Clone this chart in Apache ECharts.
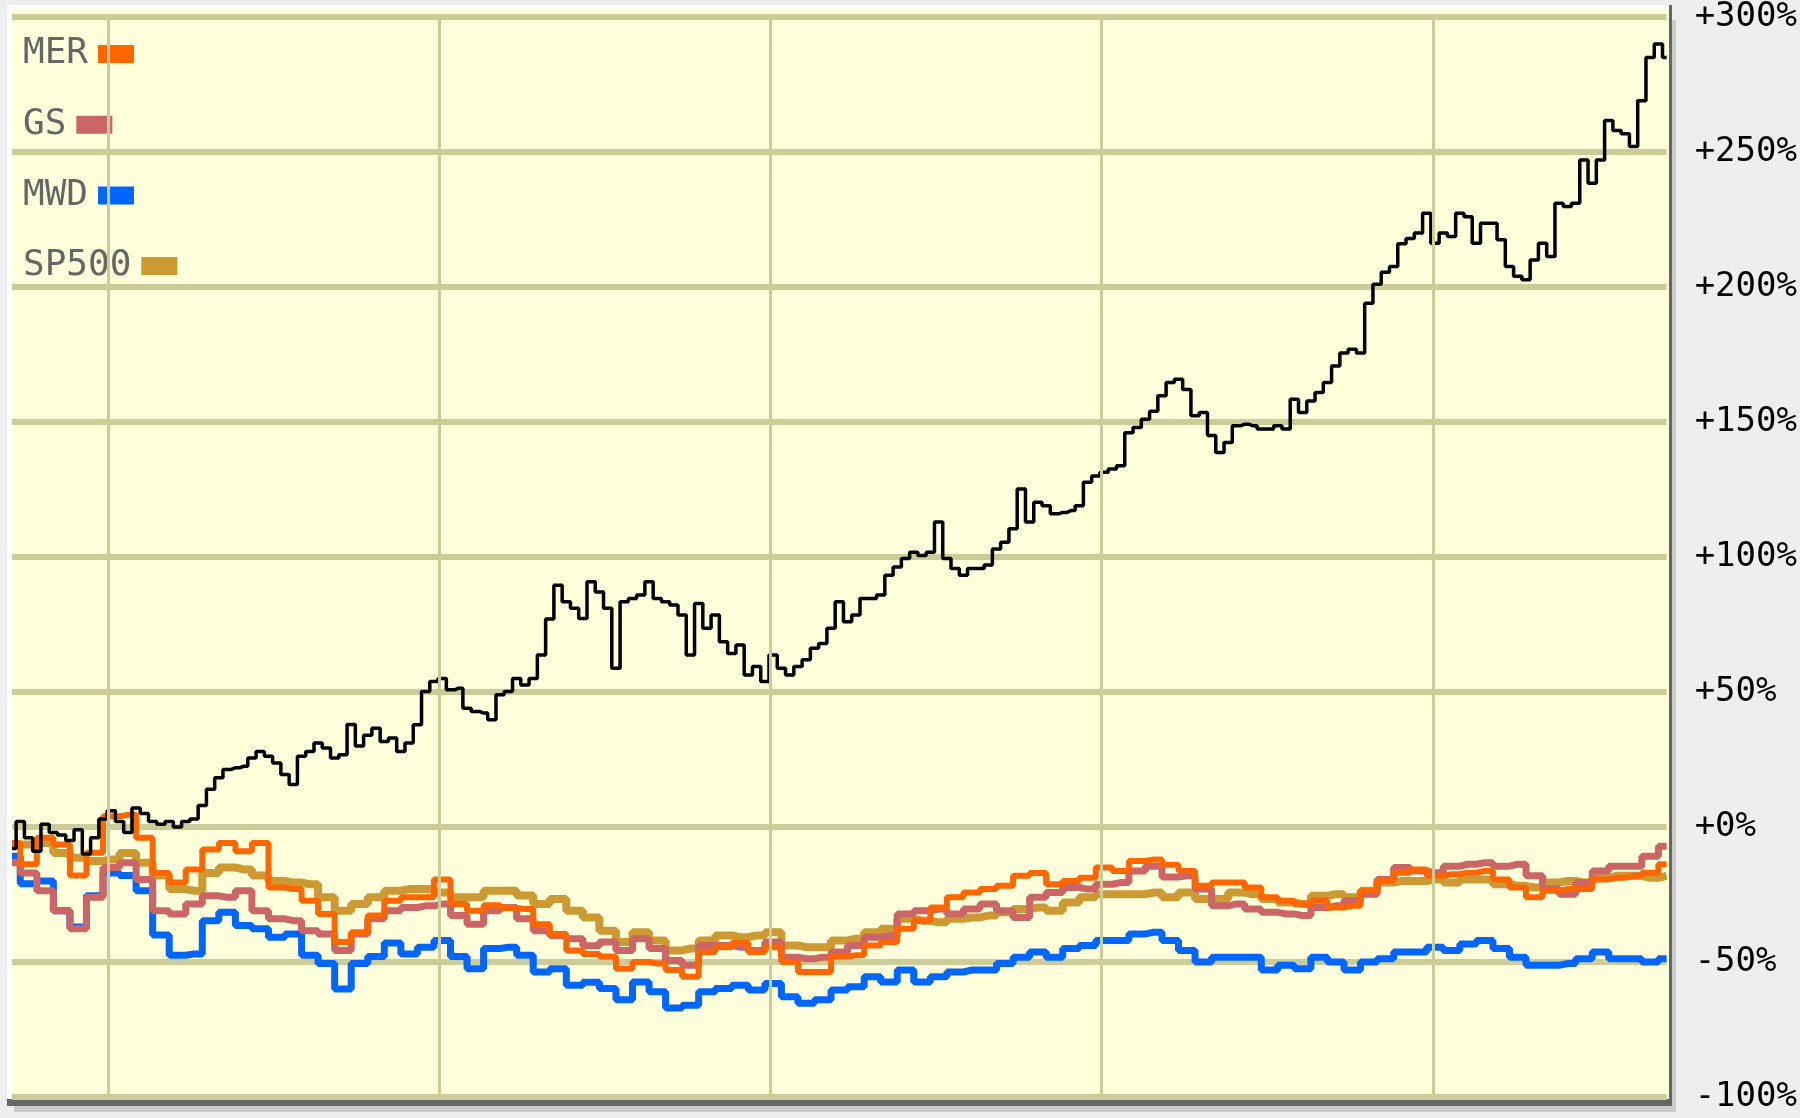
<!DOCTYPE html>
<html>
<head>
<meta charset="utf-8">
<title>MER GS MWD SP500</title>
<script src="https://cdn.jsdelivr.net/npm/echarts@6/dist/echarts.min.js"></script>
<style>
  html, body { margin: 0; padding: 0; background: #eeeeee; }
  #chart { width: 1800px; height: 1118px; }
</style>
</head>
<body>
<div id="chart"></div>
<script>
// x runs 0..100 across the plot; the colored series are sampled every 1, the main stock every 0.5
const colorStep = 1;
const mainStep = 0.5;

// positions of the vertical (period) lines on the x scale
const periodLines = [5.8, 25.8, 45.8, 65.8, 85.9];

// y axis ticks (percent change)
const yTicks = [-100, -50, 0, 50, 100, 150, 200, 250, 300];

// legend entries
const legendNames = ["MER", "GS", "MWD", "SP500"];

const seriesMER = [
  -5.9, -13.8, -4, -6.5, -18, -9.5, 4, 4.5, -4, -17,
  -20.6, -15.7, -8.3, -5.9, -9, -5.9, -22.4, -23, -27.3, -32.2,
  -42.6, -39, -32.8, -27.3, -26, -26, -19.4, -28.5, -31, -29,
  -30, -30.4, -36, -39.6, -45.7, -47, -48, -52.5, -50, -50.6,
  -53, -55.5, -46.3, -44.5, -43, -46.3, -44.5, -50, -53.7, -53.7,
  -48, -47.5, -43.9, -42.6, -37.7, -34.7, -29.8, -26, -24.3, -23,
  -21.8, -18.1, -17, -21.2, -20, -18.8, -15, -16.3, -12.6, -12,
  -14, -16.3, -21.8, -20.6, -20.6, -22.4, -26, -27.3, -28.5, -27.3,
  -29.8, -29.2, -23.6, -20, -16.9, -15.7, -18.1, -17.5, -16.9, -16.3,
  -19.4, -22.4, -26, -23.6, -23, -23, -19.4, -18.8, -18.1, -16.9,
  -13.8
];

const seriesGS = [
  -13.2, -17, -23.6, -31, -37.7, -26, -15, -13.2, -19.4, -31,
  -32.2, -28.5, -25.5, -26, -23.6, -31, -34, -34.7, -38.4, -39.6,
  -45.7, -39.6, -34, -31, -29.8, -29.2, -28.5, -32.8, -36, -31,
  -29.8, -34, -38.4, -40.2, -41.4, -44, -42.6, -45.7, -41.4, -45,
  -49.4, -51.2, -43.9, -43.9, -44.5, -45.7, -42.6, -48.2, -48.8, -48.2,
  -46.3, -43.9, -40.8, -40.2, -32.2, -31, -30.4, -32.2, -30.4, -28.5,
  -31, -33.5, -26, -24.3, -22.4, -23, -21.2, -20.6, -16.3, -14.5,
  -18.5, -18.1, -23, -29.2, -28.5, -30.4, -31.6, -32.2, -32.8, -29.8,
  -29.2, -27.3, -24.9, -19.4, -15, -16.3, -16.9, -14.5, -13.8, -13.2,
  -14.5, -13.8, -18.1, -23, -24.9, -20.6, -16.3, -14.5, -14.5, -10.8,
  -7.1
];

const seriesMWD = [
  -10.8, -21, -20, -31, -37, -25.5, -17, -18, -23.6, -40,
  -47.5, -47, -34.7, -31.6, -36.5, -37.7, -40.8, -39.6, -47.5, -50.6,
  -60, -50.6, -48, -43, -47, -44.5, -42, -48, -52.5, -45,
  -44.5, -47.5, -53.7, -52.5, -58.6, -57.5, -59.8, -64, -57.4, -61,
  -67, -66, -61, -59.8, -58.6, -60.4, -58, -62.9, -65.3, -64,
  -60.4, -59.2, -55.5, -57.4, -53, -57.4, -55.5, -53.7, -53, -53,
  -50.6, -48.2, -46.3, -48.2, -45, -43.9, -42, -42, -39.6, -39,
  -42, -45.7, -50, -48.2, -48.2, -48.2, -53, -51.2, -52.5, -48.2,
  -50, -53, -50, -48.8, -46.3, -46.3, -44.5, -45.7, -43.3, -42,
  -45, -48.2, -51.2, -51.2, -50.6, -48.8, -46.3, -48.8, -48.8, -50,
  -48.8
];

const seriesSP500 = [
  -6.5, -6.5, -5.9, -9.6, -11.4, -12.6, -12, -9.6, -13.2, -18,
  -23, -23.6, -17, -15, -15.7, -18, -20, -20.6, -21.2, -26,
  -31, -28.5, -26, -23.6, -23, -23, -24.3, -26, -26, -23.6,
  -23.6, -25.4, -28.5, -26.7, -31, -33.5, -38.4, -42.6, -39, -42,
  -45.7, -45, -42, -40.2, -40.8, -40.2, -39, -43.9, -44.5, -44.5,
  -42, -41.4, -39, -37.7, -34, -34.7, -35.3, -34, -33.5, -32.8,
  -31.6, -30.4, -29.8, -31, -28, -26, -24.9, -24.9, -24.9, -24.3,
  -26, -24.3, -26.7, -26.7, -24.3, -24.9, -26.7, -28, -28.5, -25.5,
  -24.9, -26, -23.6, -20.6, -20, -20, -19.4, -20.6, -19.4, -19.4,
  -21.2, -21.8, -22.4, -20.6, -20, -20.6, -18.8, -18.1, -18.1, -18.8,
  -18.1
];

// main stock (black), every half step
const seriesMain = [
  -8, 2, -4, -9, 1, -2, -3, -5, -1, -10,
  -4, 3, 6, 2, -2, 7, 5, 2, 1, 2,
  0, 2, 3, 8, 14, 18.2, 21.3, 21.9, 22.5, 25.6,
  28, 26.2, 23.7, 19.4, 15.7, 26.2, 28, 31.1, 29.3, 25.6,
  26.8, 38, 30, 34, 36.6, 31.7, 33, 28, 31.1, 37.9,
  50.2, 53.9, 55, 50.8, 51.4, 44, 42.8, 42.2, 39.7, 49,
  50.2, 55, 52.6, 55, 63.7, 77, 89.5, 83.4, 81, 77.2,
  90.8, 87, 81, 58.8, 83.4, 84.6, 85.9, 90.8, 84.6, 83.4,
  82.2, 78.5, 63.7, 82.8, 73.6, 78.5, 68.6, 64.3, 67.4, 56.3,
  59.4, 53.9, 63.7, 58.8, 56.3, 59.4, 61.9, 66.2, 68, 73.6,
  83.4, 76, 78.5, 84.6, 84.6, 85.9, 93.2, 96.3, 99.4, 101.8,
  100.6, 101.8, 113, 99.4, 95.7, 93.2, 95.7, 95.7, 97, 103,
  105.5, 110.5, 125.2, 113, 120.3, 119, 116, 116.5, 117.2, 119,
  127.7, 130, 131.4, 132.6, 133.8, 146, 148, 151, 154, 159.7,
  164.6, 165.8, 162, 152.3, 153.5, 145, 138.7, 142.4, 148.6, 149.2,
  148.6, 147.4, 147.4, 148.6, 147.4, 158.4, 153.5, 157.8, 160.9, 164.6,
  170.7, 175.6, 176.9, 175.6, 194, 201, 205.5, 207.6, 216, 218,
  220, 227.3, 216.2, 220, 218.7, 227.3, 226, 216.2, 223.6, 223.6,
  217.5, 207.6, 204, 202.7, 210, 216.2, 211.3, 231, 229.8, 231,
  247, 238.4, 247, 261.7, 258, 256.8, 252, 269, 285, 290,
  285
];

const toPairs = (arr, step) => arr.map((v, i) => [i * step, v]);

const chart = echarts.init(document.getElementById("chart"), null, { renderer: "canvas" });

const labelFont = "DejaVu Sans Mono";

// one legend per entry so each text starts at the same left edge and its swatch follows it
const legends = legendNames.map((name, i) => ({
  data: [name],
  orient: "vertical",
  left: 23,
  top: 34 + i * 70.7,
  padding: 0,
  align: "right",
  icon: "rect",
  itemWidth: 36,
  itemHeight: 18,
  selectedMode: false,
  textStyle: {
    color: "#666666",
    fontFamily: labelFont,
    fontSize: 36,
    lineHeight: 40,
    padding: [0, 5, 0, 0]
  }
}));

const option = {
  animation: false,
  backgroundColor: "#eeeeee",
  // frame round the plot: shadow, dark edge, white edge, pale yellow field
  graphic: [
    { type: "rect", z: -1, silent: true, shape: { x: 14, y: 20, width: 1662, height: 1092 }, style: { fill: "#cccccc" } },
    { type: "rect", z: -1, silent: true, shape: { x: 7, y: 5, width: 1665, height: 1101 }, style: { fill: "#666666" } },
    { type: "rect", z: -1, silent: true, shape: { x: 7, y: 5, width: 1662, height: 1094 }, style: { fill: "#ffffff" } },
    { type: "rect", z: -1, silent: true, shape: { x: 12, y: 10, width: 1657, height: 1089 }, style: { fill: "#ffffdc" } }
  ],
  grid: { left: 12, right: 131, top: 13, bottom: 21 },
  legend: legends,
  xAxis: {
    type: "value",
    min: 0,
    max: 100,
    show: false
  },
  yAxis: {
    type: "value",
    position: "right",
    min: yTicks[0],
    max: yTicks[yTicks.length - 1],
    interval: 50,
    axisLine: { show: false },
    axisTick: { show: false },
    axisLabel: {
      margin: 28,
      color: "#000000",
      fontFamily: labelFont,
      fontSize: 34,
      formatter: v => (v >= 0 ? "+" + v + "%" : v + "%")
    },
    splitLine: { lineStyle: { color: "#cccc99", width: 6 } }
  },
  series: [
    {
      // carries the vertical period lines under every curve
      name: "periods",
      type: "line",
      z: 1,
      data: [],
      markLine: {
        silent: true,
        symbol: "none",
        label: { show: false },
        lineStyle: { color: "#cccc99", width: 3, type: "solid" },
        data: periodLines.map(x => ({ xAxis: x }))
      }
    },
    {
      name: "SP500", type: "line", step: "middle", showSymbol: false, color: "#cc9933",
      lineStyle: { width: 8 }, data: toPairs(seriesSP500, colorStep)
    },
    {
      name: "MWD", type: "line", step: "middle", showSymbol: false, color: "#0066ff",
      lineStyle: { width: 7 }, data: toPairs(seriesMWD, colorStep)
    },
    {
      name: "GS", type: "line", step: "middle", showSymbol: false, color: "#cc6666",
      lineStyle: { width: 7 }, data: toPairs(seriesGS, colorStep)
    },
    {
      name: "MER", type: "line", step: "middle", showSymbol: false, color: "#ff6600",
      lineStyle: { width: 6 }, data: toPairs(seriesMER, colorStep)
    },
    {
      name: "Stock", type: "line", step: "middle", showSymbol: false, color: "#000000",
      lineStyle: { width: 3.5 }, data: toPairs(seriesMain, mainStep)
    }
  ]
};

chart.setOption(option);
</script>
</body>
</html>
